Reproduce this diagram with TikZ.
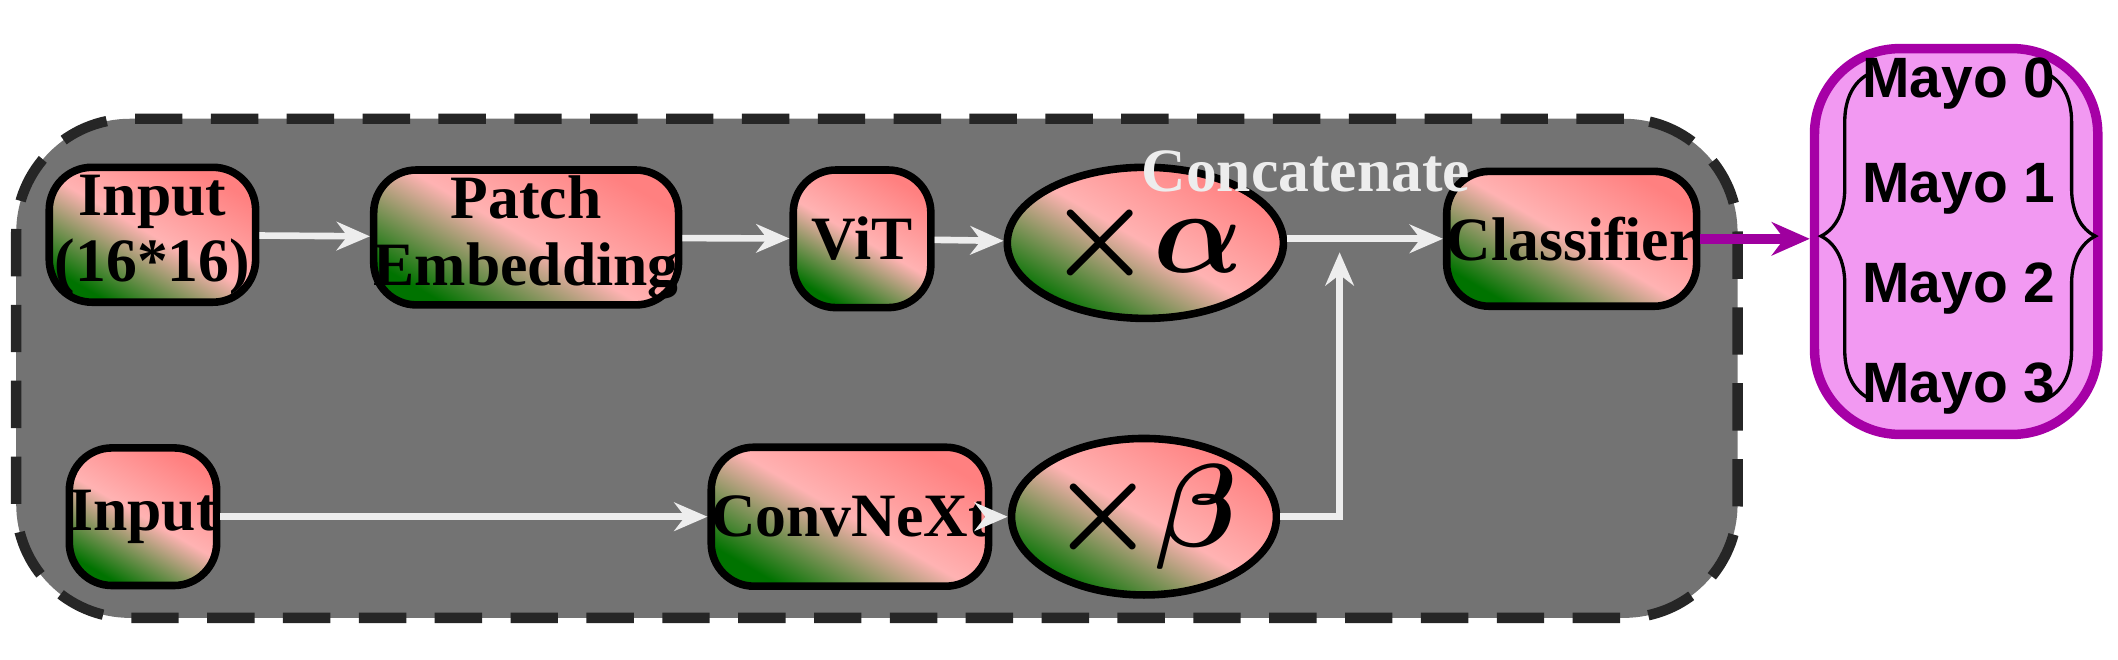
\documentclass[tikz,border=0pt]{standalone}
\usepackage{amsmath}
\usepackage{fontspec}
\setmainfont{Liberation Serif}
\newfontfamily\mayofont{Liberation Sans}
\usetikzlibrary{arrows.meta,decorations.pathreplacing,calc,shapes.geometric}
\begin{document}
\begin{tikzpicture}[x=0.1mm,y=0.1mm,
  blk/.style={draw=black,line width=1.6pt,rounded corners=9pt,
    left color=red!50!white,right color=green!45!black,middle color=red!30!white,
    shading angle=-30,font=\bfseries\fontsize{13}{14}\selectfont,align=center,inner sep=0pt},
  circ/.style={draw=black,line width=1.6pt,ellipse,
    left color=red!50!white,right color=green!45!black,middle color=red!30!white,
    shading angle=-30,inner sep=0pt},
  arr/.style={draw=black!7,line width=1.4pt,-{Stealth[length=7pt,width=6pt]}},
  mayo/.style={font=\mayofont\bfseries\fontsize{12}{13}\selectfont}]
\useasboundingbox (0,0) rectangle (1570,-489);
\node[draw=black!85,fill=black!55,line width=2.2pt,dash pattern=on 10pt off 6pt,rounded corners=24pt,
  minimum width=127.6mm,minimum height=37mm,inner sep=0pt] (bg) at (650,-273) {};
\node[blk,minimum width=15.3mm,minimum height=10mm] (in1) at (113,-174) {Input\\(16*16)};
\node[blk,minimum width=20mm,minimum height=10mm] (pe) at (390,-176) {Patch\\Embedding};
\node[blk,minimum width=10.2mm,minimum height=10.2mm] (vit) at (639,-177) {ViT};
\node[circ,minimum width=11.6mm,minimum height=11.2mm] (a) at (849,-180) {\fontsize{26}{28}\selectfont$\boldsymbol{\times\alpha}$};
\node[blk,minimum width=18.5mm,minimum height=10mm] (cls) at (1165,-177) {Classifier};
\node[blk,minimum width=10.7mm,minimum height=10.2mm] (in2) at (106,-383) {Input};
\node[blk,minimum width=17mm,minimum height=10.3mm] (cnx) at (630,-383) {ConvNeXt};
\node[circ,minimum width=11.6mm,minimum height=11.6mm] (b) at (848,-383) {\fontsize{26}{28}\selectfont$\boldsymbol{\times\beta}$};
\node[text=black!7,font=\bfseries\fontsize{13}{14}\selectfont] (cc) at (968,-127) {Concatenate};
\coordinate (j) at (993,-181);
\draw[arr] (in1) -- (pe);
\draw[arr] (pe) -- (vit);
\draw[arr] (vit) -- (a);
\draw[arr] (a.east |- cls) -- (cls);
\draw[arr] (in2) -- (cnx);
\draw[arr] (cnx) -- (b);
\draw[arr] (b.east) -| ($(j)+(0,-6)$);
\node[draw=violet!70!magenta,fill=violet!25!magenta!40,line width=2pt,rounded corners=18pt,
  minimum width=21mm,minimum height=28.6mm,inner sep=0pt] (out) at (1450,-179) {};
\draw[draw=violet!75!magenta,line width=2pt,-{Stealth[length=8pt,width=7pt]}] (cls.east) -- (out.west |- cls);
\node[mayo] (m0) at (1452,-62) {Mayo 0};
\node[mayo] (m1) at (1452,-140) {Mayo 1};
\node[mayo] (m2) at (1452,-214) {Mayo 2};
\node[mayo] (m3) at (1452,-288) {Mayo 3};
\draw[line width=0.7pt,decorate,decoration={brace,amplitude=10pt}] (1385,-295) -- (1385,-55);
\draw[line width=0.7pt,decorate,decoration={brace,amplitude=10pt}] (1518,-55) -- (1518,-295);
\end{tikzpicture}
\end{document}
